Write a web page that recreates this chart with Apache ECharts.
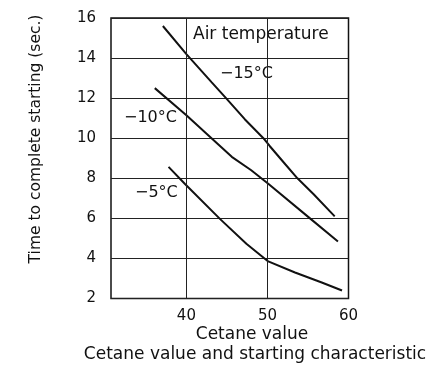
<!DOCTYPE html>
<html>
<head>
<meta charset="utf-8">
<script src="https://cdn.jsdelivr.net/npm/echarts@6/dist/echarts.min.js"></script>
<style>
  html, body { margin: 0; padding: 0; background: #fff; }
  #chart { width: 435px; height: 368px; }
</style>
</head>
<body>
<div id="chart"></div>
<script>
// Cetane value vs. time to complete starting, at three air temperatures
var cetaneTicks = [40, 50, 60];
var timeTicks = [2, 4, 6, 8, 10, 12, 14, 16];

var minus15 = [
  [37.1, 15.6], [40.0, 14.2], [43.1, 12.8], [45.0, 11.95], [47.2, 10.95],
  [49.5, 10.0], [50.3, 9.6], [52.2, 8.7], [53.7, 8.0], [55.7, 7.2], [58.3, 6.1]
];
var minus10 = [
  [36.1, 12.5], [40.0, 11.15], [43.1, 10.0], [45.6, 9.07], [48.0, 8.4],
  [50.1, 7.73], [55.25, 6.0], [58.7, 4.85]
];
var minus5 = [
  [37.8, 8.57], [39.8, 7.73], [44.2, 5.95], [47.4, 4.73], [50.1, 3.85],
  [53.4, 3.3], [56.7, 2.8], [59.2, 2.4]
];

var FONT = 'DejaVu Sans';
var INK = '#111';

function curve(name, data) {
  return {
    name: name,
    type: 'line',
    data: data,
    symbol: 'none',
    smooth: false,
    lineStyle: { color: INK, width: 2 },
    silent: true
  };
}

var chart = echarts.init(document.getElementById('chart'), null, { renderer: 'canvas' });

chart.setOption({
  animation: false,
  backgroundColor: '#fff',
  textStyle: { fontFamily: FONT, color: INK },
  grid: {
    left: 111, right: 86.5, top: 18, bottom: 69.5,
    show: true, borderColor: INK, borderWidth: 1.5, backgroundColor: 'transparent'
  },
  xAxis: {
    type: 'value',
    min: 30.7,
    max: 60,
    axisLine: { show: false },
    axisTick: { show: false },
    splitLine: { show: false },
    axisLabel: {
      customValues: cetaneTicks,
      margin: 10,
      fontSize: 15,
      color: INK,
      fontFamily: FONT
    }
  },
  yAxis: {
    type: 'value',
    min: timeTicks[0],
    max: timeTicks[timeTicks.length - 1],
    interval: 2,
    axisLine: { show: false },
    axisTick: { show: false },
    splitLine: { show: true, lineStyle: { color: '#222', width: 1 } },
    axisLabel: { margin: 15, fontSize: 15, color: INK, fontFamily: FONT }
  },
  series: [
    curve('-15°C', minus15),
    curve('-10°C', minus10),
    curve('-5°C', minus5),
    {
      // vertical grid lines at the labelled cetane values inside the box
      type: 'line',
      data: [],
      silent: true,
      markLine: {
        symbol: 'none',
        silent: true,
        label: { show: false },
        lineStyle: { color: '#222', width: 1, type: 'solid' },
        data: cetaneTicks.slice(0, 2).map(function (v) { return { xAxis: v }; })
      }
    }
  ],
  graphic: [
    { type: 'text', x: 36, y: 139, rotation: Math.PI / 2,
      style: { text: 'Time to complete starting (sec.)', fontFamily: FONT, fontSize: 15.5, fill: INK, align: 'center', verticalAlign: 'middle' } },
    { type: 'text', left: 193, top: 26, style: { text: 'Air temperature', fontFamily: FONT, fontSize: 17, fill: INK } },
    { type: 'text', left: 220, top: 66, style: { text: '\u221215\u00b0C', fontFamily: FONT, fontSize: 16, fill: INK } },
    { type: 'text', left: 124, top: 110, style: { text: '\u221210\u00b0C', fontFamily: FONT, fontSize: 16, fill: INK } },
    { type: 'text', left: 135, top: 185, style: { text: '\u22125\u00b0C', fontFamily: FONT, fontSize: 16, fill: INK } },
    { type: 'text', x: 252, y: 335, style: { text: 'Cetane value', fontFamily: FONT, fontSize: 17, fill: INK, align: 'center', verticalAlign: 'middle' } },
    { type: 'text', x: 255, y: 355, style: { text: 'Cetane value and starting characteristic', fontFamily: FONT, fontSize: 17, fill: INK, align: 'center', verticalAlign: 'middle' } }
  ]
});
</script>
</body>
</html>
